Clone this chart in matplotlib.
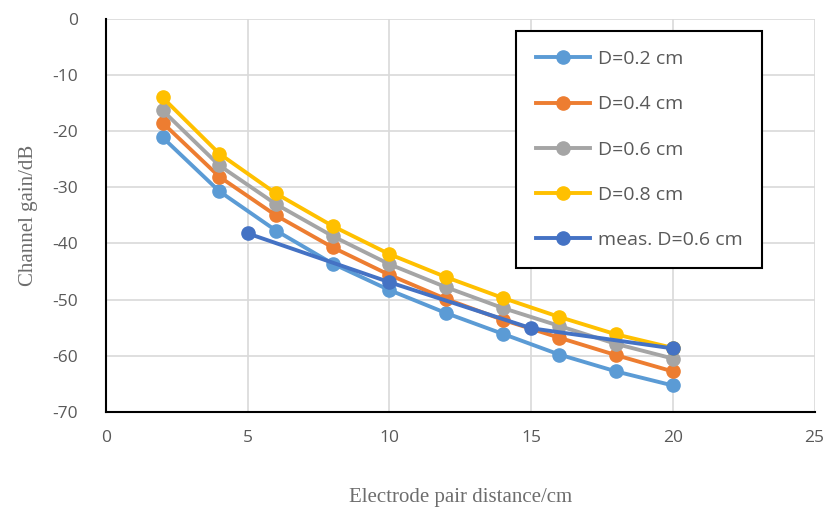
import matplotlib.pyplot as plt

plt.rcParams['axes.unicode_minus'] = False

# distances (cm)
x_sim = [2, 4, 6, 8, 10, 12, 14, 16, 18, 20]
x_meas = [5, 10, 15, 20]

# channel gain (dB)
gain_d02 = [-21.1, -30.7, -37.7, -43.6, -48.3, -52.4, -56.1, -59.8, -62.8, -65.3]
gain_d04 = [-18.5, -28.1, -35.0, -40.7, -45.6, -49.9, -53.6, -56.8, -59.9, -62.8]
gain_d06 = [-16.3, -26.1, -33.0, -38.7, -43.7, -47.8, -51.5, -54.7, -57.9, -60.5]
gain_d08 = [-14.0, -24.0, -31.1, -36.9, -41.9, -46.0, -49.7, -53.1, -56.2, -58.6]
gain_meas = [-38.2, -46.9, -55.1, -58.7]

labels = ['D=0.2 cm', 'D=0.4 cm', 'D=0.6 cm', 'D=0.8 cm', 'meas. D=0.6 cm']
colors = ['#5b9bd5', '#ed7d31', '#a5a5a5', '#ffc000', '#4472c4']

fig = plt.figure(figsize=(8.27, 5.11), dpi=100)
ax = fig.add_axes([0.128, 0.194, 0.857, 0.769])

series = [(x_sim, gain_d02), (x_sim, gain_d04), (x_sim, gain_d06),
          (x_sim, gain_d08), (x_meas, gain_meas)]
for (xs, ys), lab, c in zip(series, labels, colors):
    ax.plot(xs, ys, color=c, linewidth=2.8, marker='o', markersize=9.5,
            label=lab, zorder=3)

ax.set_xlim(0, 25)
ax.set_ylim(-70, 0)
ax.set_xticks(range(0, 26, 5))
ax.set_yticks(range(-70, 1, 10))
ax.grid(True, color='#d9d9d9', linewidth=1.2)
ax.set_axisbelow(True)
for s in ['top', 'right']:
    ax.spines[s].set_visible(False)
ax.spines['left'].set_linewidth(1.5)
ax.spines['bottom'].set_linewidth(1.5)
ax.tick_params(length=0, labelsize=12.5, labelcolor='#595959')
ax.tick_params(axis='x', pad=13)
ax.tick_params(axis='y', pad=20)
for t in ax.get_xticklabels() + ax.get_yticklabels():
    t.set_fontfamily('Open Sans')

ax.set_xlabel('Electrode pair distance/cm', fontsize=15, family='Liberation Serif',
              color='#6d6d6d', labelpad=30)
ax.set_ylabel('Channel gain/dB', fontsize=15, family='Liberation Serif',
              color='#6d6d6d', labelpad=10)

leg = ax.legend(loc='upper right', bbox_to_anchor=(0.926, 0.97), borderaxespad=0,
                fancybox=False, edgecolor='black', framealpha=1, borderpad=1.0,
                labelspacing=1.4, handlelength=2.8, handletextpad=0.4,
                prop={'family': 'Open Sans', 'size': 14})
leg.get_frame().set_linewidth(1.5)
for t in leg.get_texts():
    t.set_color('#595959')

fig.savefig('out.png', dpi=100)
